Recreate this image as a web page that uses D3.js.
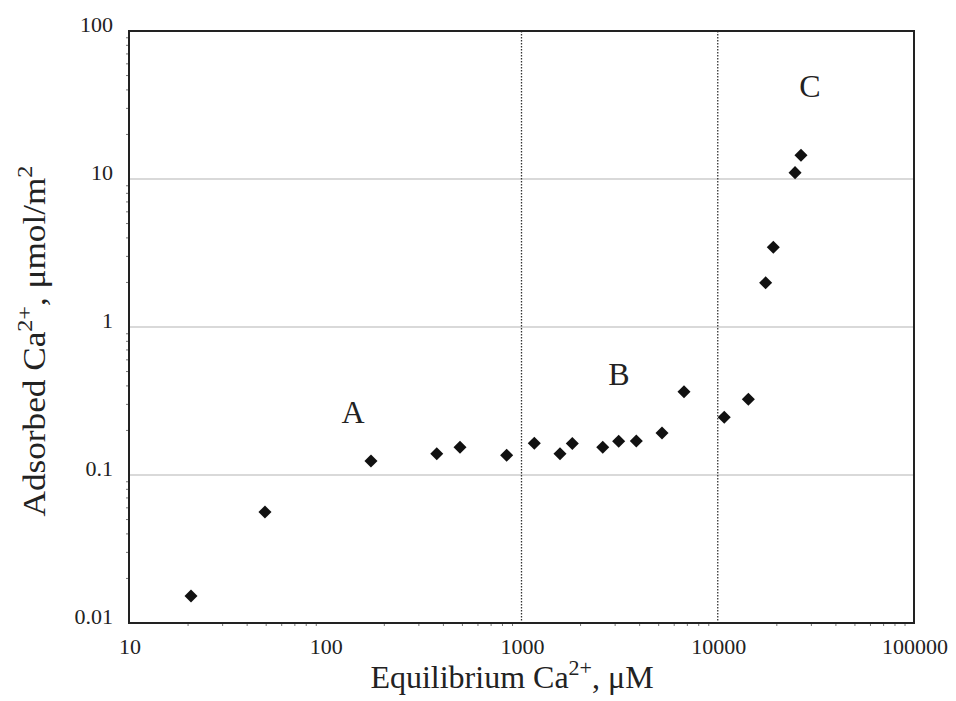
<!DOCTYPE html>
<html>
<head>
<meta charset="utf-8">
<script src="https://cdn.jsdelivr.net/npm/d3@7"></script>
<style>
  html, body { margin: 0; padding: 0; background: #fff; }
  svg { display: block; }
</style>
</head>
<body>
<svg id="chart" width="956" height="701"></svg>
<script>
// ---- data ----
const concentration = [20.7, 49.3, 171, 370, 486, 840, 1162, 1571, 1815, 2594, 3127, 3847, 5200, 6730, 10790, 14320, 17540, 19190, 24770, 26550];
const adsorbed      = [0.0152, 0.0562, 0.1245, 0.1393, 0.1538, 0.136, 0.1637, 0.1393, 0.163, 0.1538, 0.169, 0.1698, 0.192, 0.3656, 0.2455, 0.3245, 1.99, 3.455, 11.04, 14.45];
const xTickValues = [10, 100, 1000, 10000, 100000];
const xTickLabels = ["10", "100", "1000", "10000", "100000"];
const yTickValues = [0.01, 0.1, 1, 10, 100];
const yTickLabels = ["0.01", "0.1", "1", "10", "100"];
const regionLabels = ["A", "B", "C"];
const regionX = [138.5, 3140, 29500];
const regionY = [0.2246, 0.4055, 35.8];
const verticalLines = [1000, 10000];
const horizontalGrid = [0.1, 1, 10];

// ---- layout ----
const L = 129, R = 914, T = 31, B = 623;
const svg = d3.select("#chart");
const x = d3.scaleLog().domain([10, 100000]).range([L, R]);
const y = d3.scaleLog().domain([0.01, 100]).range([B, T]);
const serif = "'Liberation Serif', 'Times New Roman', serif";

// horizontal gridlines
svg.append("g").selectAll("line").data(horizontalGrid).join("line")
  .attr("x1", L).attr("x2", R)
  .attr("y1", d => y(d)).attr("y2", d => y(d))
  .attr("stroke", "#b4b4b4").attr("stroke-width", 1.2);

// vertical dotted lines
svg.append("g").selectAll("line").data(verticalLines).join("line")
  .attr("x1", d => x(d)).attr("x2", d => x(d))
  .attr("y1", T).attr("y2", B)
  .attr("stroke", "#333").attr("stroke-width", 1.3)
  .attr("stroke-dasharray", "1.5,1.5");

// minor ticks (outside)
const xMinor = [];
const yMinor = [];
for (let dec = 10; dec < 100000; dec *= 10) for (let k = 2; k <= 9; k++) xMinor.push(dec * k);
for (let dec = 0.01; dec < 99; dec *= 10) for (let k = 2; k <= 9; k++) yMinor.push(dec * k);
svg.append("g").selectAll("line").data(xMinor).join("line")
  .attr("x1", d => x(d)).attr("x2", d => x(d))
  .attr("y1", B).attr("y2", B + 3)
  .attr("stroke", "#777").attr("stroke-width", 1);
svg.append("g").selectAll("line").data(yMinor).join("line")
  .attr("x1", L - 3).attr("x2", L)
  .attr("y1", d => y(d)).attr("y2", d => y(d))
  .attr("stroke", "#777").attr("stroke-width", 1);

// frame
svg.append("rect")
  .attr("x", L).attr("y", T).attr("width", R - L).attr("height", B - T)
  .attr("fill", "none").attr("stroke", "#222").attr("stroke-width", 2);

// tick labels
svg.append("g").selectAll("text").data(xTickValues).join("text")
  .attr("x", d => x(d) + 1).attr("y", B + 31)
  .attr("text-anchor", "middle")
  .attr("font-family", serif).attr("font-size", 22).attr("fill", "#222")
  .text((d, i) => xTickLabels[i]);
svg.append("g").selectAll("text").data(yTickValues).join("text")
  .attr("x", L - 16).attr("y", d => y(d) + 1)
  .attr("text-anchor", "end")
  .attr("font-family", serif).attr("font-size", 22).attr("fill", "#222")
  .text((d, i) => yTickLabels[i]);

// points
svg.append("g").selectAll("path").data(concentration).join("path")
  .attr("d", d3.symbol(d3.symbolSquare, 85))
  .attr("transform", (d, i) => `translate(${x(d)},${y(adsorbed[i])}) rotate(45)`)
  .attr("fill", "#111");

// region labels
svg.append("g").selectAll("text").data(regionLabels).join("text")
  .attr("x", (d, i) => x(regionX[i])).attr("y", (d, i) => y(regionY[i]))
  .attr("text-anchor", "middle")
  .attr("font-family", serif).attr("font-size", 32).attr("fill", "#222")
  .text(d => d);

// axis titles
const xt = svg.append("text")
  .attr("x", 512).attr("y", 688)
  .attr("text-anchor", "middle")
  .attr("font-family", serif).attr("font-size", 32).attr("fill", "#222");
xt.append("tspan").text("Equilibrium Ca");
xt.append("tspan").attr("dy", -13).attr("font-size", 22).text("2+");
xt.append("tspan").attr("dy", 13).text(", μM");

const yt = svg.append("text")
  .attr("transform", "translate(45,341) rotate(-90) scale(1.1,1)")
  .attr("text-anchor", "middle")
  .attr("font-family", serif).attr("font-size", 32).attr("fill", "#222");
yt.append("tspan").text("Adsorbed Ca");
yt.append("tspan").attr("dy", -13).attr("font-size", 22).text("2+");
yt.append("tspan").attr("dy", 13).text(", μmol/m");
yt.append("tspan").attr("dy", -13).attr("font-size", 22).text("2");
</script>
</body>
</html>
